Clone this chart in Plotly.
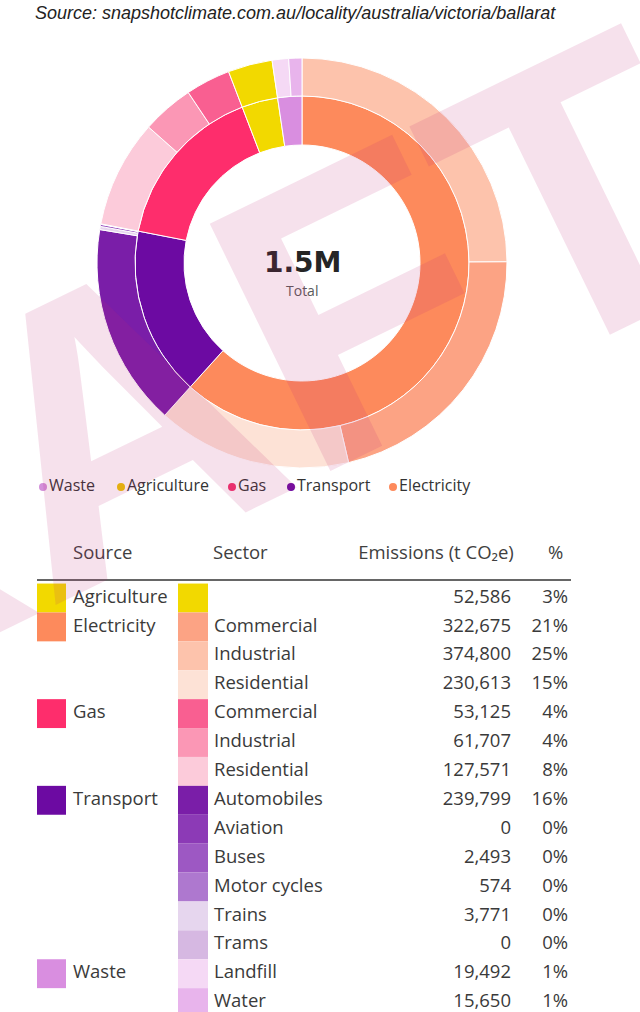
import plotly.graph_objects as go

# ------------------------------------------------------------------ data
CAPTION = "Source: snapshotclimate.com.au/locality/australia/victoria/ballarat"
WATERMARK = "DRAFT"
HEADERS = ["Source", "Sector", "Emissions (t CO₂e)", "%"]

SOURCE_NAMES = ["Agriculture", "Electricity", "Electricity", "Electricity",
                "Gas", "Gas", "Gas",
                "Transport", "Transport", "Transport", "Transport", "Transport", "Transport",
                "Waste", "Waste"]
SECTOR_NAMES = ["", "Commercial", "Industrial", "Residential",
                "Commercial", "Industrial", "Residential",
                "Automobiles", "Aviation", "Buses", "Motor cycles", "Trains", "Trams",
                "Landfill", "Water"]
EMISSIONS = [52586, 322675, 374800, 230613,
             53125, 61707, 127571,
             239799, 0, 2493, 574, 3771, 0,
             19492, 15650]

SOURCE_COLORS = {
    "Agriculture": "#F2D900",
    "Electricity": "#FD8A5C",
    "Gas": "#FE2D6C",
    "Transport": "#6C0AA2",
    "Waste": "#D98EE0",
}
LEGEND_COLORS = {
    "Agriculture": "#EBC400",
    "Electricity": "#FD8A5C",
    "Gas": "#F0306C",
    "Transport": "#6C0AA2",
    "Waste": "#D390DA",
}
SECTOR_COLORS = ["#F2D900", "#FCA384", "#FDC3AC", "#FDE2D6",
                 "#F95F91", "#FB97B5", "#FCCBDA",
                 "#7A1EA8", "#8C3AB6", "#9D58C3", "#AE78CF", "#E6D6EE", "#D6B8E2",
                 "#F5D9F5", "#E8B4EC"]

# ------------------------------------------------------------------ layout constants
W, H = 640, 1012
FONT = "Open Sans"
TXT = "#3a3a3a"
CX, CY = 302, 263            # donut centre (px)
R_OUT, R_MID, R_IN = 205, 167, 118
ROW0_PX, ROW_H = 598, 28.9   # table first row centre, row height
HEADER_PX, LINE_PX, LEGEND_PX = 554, 580, 487
SW1_X, SW1_W = 37, 29        # source swatch column
SW2_X, SW2_W = 178, 30       # sector swatch column
COL_SOURCE_X, COL_SECTOR_X = 73, 214
COL_EMIS_R, COL_PCT_R = 511, 568
HEADER_X = [73, 213, 436, 548]
HEADER_POS = ["middle right", "middle right", "middle center", "middle right"]
LEGEND_X = [43, 121, 232, 291, 393]


def row_of(px):
    return (px - ROW0_PX) / ROW_H


def dom(c, r, size):
    return [(c - r) / size, (c + r) / size]


total = sum(EMISSIONS)
n = len(EMISSIONS)
rows = list(range(n))

# source totals and ordering (descending, as the donut draws them)
src_tot = {}
for s, v in zip(SOURCE_NAMES, EMISSIONS):
    src_tot[s] = src_tot.get(s, 0) + v
src_order = sorted(src_tot, key=lambda s: -src_tot[s])

outer_labels, outer_values, outer_colors = [], [], []
for s in src_order:
    idx = [i for i in rows if SOURCE_NAMES[i] == s]
    idx.sort(key=lambda i: -EMISSIONS[i])
    for i in idx:
        outer_labels.append(f"{s} {SECTOR_NAMES[i]}".strip())
        outer_values.append(EMISSIONS[i])
        outer_colors.append(SECTOR_COLORS[i])

fig = go.Figure()

# ------------------------------------------------------------------ table (hidden axes)
first_rows = [i for i in rows if i == 0 or SOURCE_NAMES[i] != SOURCE_NAMES[i - 1]]

fig.add_trace(go.Bar(
    orientation="h", y=first_rows, x=[SW1_W] * len(first_rows), base=SW1_X, width=1,
    marker=dict(color=[SOURCE_COLORS[SOURCE_NAMES[i]] for i in first_rows], line=dict(width=0)),
    hoverinfo="skip"))
fig.add_trace(go.Bar(
    orientation="h", y=rows, x=[SW2_W] * n, base=SW2_X, width=1,
    marker=dict(color=SECTOR_COLORS, line=dict(width=0)), hoverinfo="skip"))

cell_font = dict(family=FONT, size=18.5, color=TXT)
fig.add_trace(go.Scatter(
    x=[COL_SOURCE_X] * len(first_rows), y=first_rows, mode="text",
    text=[SOURCE_NAMES[i] for i in first_rows], textposition="middle right",
    textfont=cell_font, hoverinfo="skip"))
fig.add_trace(go.Scatter(
    x=[COL_SECTOR_X] * n, y=rows, mode="text", text=SECTOR_NAMES,
    textposition="middle right", textfont=cell_font, hoverinfo="skip"))
fig.add_trace(go.Scatter(
    x=[COL_EMIS_R] * n, y=rows, mode="text", text=[f"{v:,}" for v in EMISSIONS],
    textposition="middle left", textfont=cell_font, hoverinfo="skip"))
fig.add_trace(go.Scatter(
    x=[COL_PCT_R] * n, y=rows, mode="text",
    text=[f"{round(v / total * 100)}%" for v in EMISSIONS],
    textposition="middle left", textfont=cell_font, hoverinfo="skip"))
fig.add_trace(go.Scatter(
    x=HEADER_X, y=[row_of(HEADER_PX)] * len(HEADERS), mode="text", text=HEADERS,
    textposition=HEADER_POS, textfont=dict(family=FONT, size=18.5, color="#404040"),
    hoverinfo="skip"))

# custom legend (ascending order)
leg_names = list(reversed(src_order))
fig.add_trace(go.Scatter(
    x=LEGEND_X, y=[row_of(LEGEND_PX)] * len(leg_names), mode="markers+text",
    text=leg_names, textposition="middle right",
    marker=dict(size=8, color=[LEGEND_COLORS[s] for s in leg_names]),
    textfont=dict(family=FONT, size=16, color="#333333"), hoverinfo="skip"))

# ------------------------------------------------------------------ donut
fig.add_trace(go.Pie(
    labels=src_order, values=[src_tot[s] for s in src_order],
    marker=dict(colors=[SOURCE_COLORS[s] for s in src_order], line=dict(color="white", width=1)),
    hole=R_IN / R_MID, sort=False, direction="clockwise", rotation=0,
    textinfo="none", hoverinfo="skip", showlegend=False,
    domain=dict(x=dom(CX, R_MID, W), y=dom(H - CY, R_MID, H))))
fig.add_trace(go.Pie(
    labels=outer_labels, values=outer_values,
    marker=dict(colors=outer_colors, line=dict(color="white", width=1)),
    hole=R_MID / R_OUT, sort=False, direction="clockwise", rotation=0,
    textinfo="none", hoverinfo="skip", showlegend=False,
    domain=dict(x=dom(CX, R_OUT, W), y=dom(H - CY, R_OUT, H))))

# ------------------------------------------------------------------ layout
fig.update_layout(
    width=W, height=H, margin=dict(l=0, r=0, t=0, b=0),
    paper_bgcolor="white", plot_bgcolor="white", showlegend=False,
    barmode="overlay",
    xaxis=dict(range=[0, W], visible=False, fixedrange=True),
    yaxis=dict(range=[row_of(H), row_of(0)], visible=False, fixedrange=True),
    shapes=[dict(type="line", xref="x", yref="y", x0=SW1_X, x1=571,
                 y0=row_of(LINE_PX), y1=row_of(LINE_PX), line=dict(color="#666666", width=2))],
    annotations=[
        dict(text=f"<i>{CAPTION}</i>", xref="paper", yref="paper", x=33 / W, y=1 - 13 / H,
             xanchor="left", yanchor="middle", showarrow=False,
             font=dict(family="Liberation Sans", size=18, color="#222222")),
        dict(text=f"<b>{total / 1e6:.1f}M</b>", xref="paper", yref="paper",
             x=CX / W, y=1 - 262 / H, xanchor="center", yanchor="middle", showarrow=False,
             font=dict(family="DejaVu Sans", size=28, color="#252525")),
        dict(text="Total", xref="paper", yref="paper", x=CX / W, y=1 - 290 / H,
             xanchor="center", yanchor="middle", showarrow=False,
             font=dict(family=FONT, size=14, color="#5a5a5a")),
        dict(text=f"<b>{WATERMARK}</b>", xref="paper", yref="paper", x=75 / W, y=1 - 441 / H,
             xanchor="center", yanchor="middle", showarrow=False, textangle=-26,
             font=dict(family="Liberation Sans", size=400, color="rgba(190,40,120,0.14)")),
    ],
)

fig.write_html("out.html", config={"displayModeBar": False, "staticPlot": True},
               post_script="document.body.style.margin='0';")
